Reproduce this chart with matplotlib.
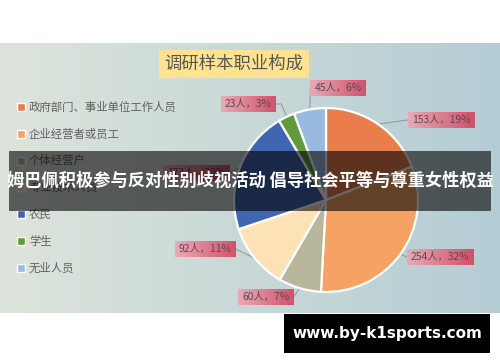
import numpy as np
import matplotlib.pyplot as plt
from matplotlib.patches import Rectangle

plt.rcParams['font.family'] = ['Noto Sans CJK SC', 'DejaVu Sans']

# data
categories = ['政府部门、事业单位工作人员', '企业经营者或员工', '个体经营户', '专业技术人员',
              '农民', '学生', '无业人员']
values = [153, 254, 60, 92, 173, 23, 45]
pct_labels = ['19%', '32%', '7%', '11%', '22%', '3%', '6%']
colors = ['#EA7D4C', '#F6A262', '#B8B79C', '#FDE2B6', '#3F66B0', '#5F9B3B', '#98BAE1']

title = '调研样本职业构成'
banner = '姆巴佩积极参与反对性别歧视活动 倡导社会平等与尊重女性权益'
site = 'www.by-k1sports.com'

W, H = 500, 362


def Y(y):
    # pixel row (top-down) -> data y
    return H - y


fig = plt.figure(figsize=(5, 3.62), dpi=100)
ax = fig.add_axes([0, 0, 1, 1])

# background gradient of the chart area
left = np.array([221, 228, 219]) / 255
right = np.array([180, 205, 212]) / 255
t = np.linspace(0, 1, 200)
grad = (left[None, :] * (1 - t[:, None]) + right[None, :] * t[:, None])[None, :, :]
ax.imshow(grad, extent=(0, W, Y(313), Y(43)), aspect='auto', zorder=0)

# pie
cx, cy, r = 326, 200, 92
wedges, _ = ax.pie(values, colors=colors, startangle=90, counterclock=False,
                   center=(cx, Y(cy)), radius=r, frame=True,
                   wedgeprops=dict(edgecolor='white', linewidth=1.6))
for w in wedges:
    w.set_zorder(2)

# title
ax.text(234, Y(64), title, fontsize=12.5, color='#555555', ha='center', va='center',
        zorder=5, bbox=dict(boxstyle='square,pad=0.3', fc='#FFE38F', ec='none'))

# legend
for i, (name, c) in enumerate(zip(categories, colors)):
    ly = 107 + 26.8 * i
    ax.add_patch(Rectangle((17, Y(ly) - 4), 8, 8, fc=c, ec='white', lw=1, zorder=5))
    ax.text(29, Y(ly), name, fontsize=8.2, color='#606060', va='center', zorder=5)

# data labels
label_pos = [(441, 120), (440, 257), (266, 297), (205, 249), (196, 173), (248, 104), (338, 88)]
fig.canvas.draw()
renderer = fig.canvas.get_renderer()
box_grad = np.linspace(np.array([236, 165, 178]) / 255, np.array([213, 66, 95]) / 255, 50)[None, :, :]
total = sum(values)
acc = 0
for v, p, (bx, by) in zip(values, pct_labels, label_pos):
    mid = 90 - 360 * (acc + v / 2) / total
    acc += v
    ex = cx + r * np.cos(np.radians(mid))
    ey = cy - r * np.sin(np.radians(mid))
    txt = ax.text(bx, Y(by), f'{v}人，{p}', fontsize=7.4, color='#5a4a50',
                  ha='center', va='center', zorder=7)
    bb = txt.get_window_extent(renderer)
    bw = bb.width + 8
    bh = 16
    x0, x1 = bx - bw / 2, bx + bw / 2
    ax.imshow(box_grad, extent=(x0, x1, Y(by + bh / 2), Y(by - bh / 2)),
              aspect='auto', alpha=0.9, zorder=6)
    if by < cy - r and x0 < ex < x1 + 10:
        # label right above the slice: line ends at the box bottom
        xs, ys = [ex, x0 + 4], [ey, by + bh / 2]
    elif bx > cx:
        xs, ys = [ex, x0], [ey, by]
    elif abs(by - ey) < 12:
        xs, ys = [ex, x1], [ey, by]
    else:
        xs, ys = [ex, x1 + 6, x1], [ey, by, by]
    ax.plot(xs, [Y(v_) for v_ in ys], color='#9a9a9a', lw=0.8, zorder=1.5)

# banner overlay
ax.add_patch(Rectangle((9, Y(211)), 482, 60, fc='black', alpha=0.6, ec='none', zorder=10))
ax.text(250, Y(181), banner, fontsize=12.4, fontweight='bold', color='white',
        ha='center', va='center', zorder=11)

# site box
ax.add_patch(Rectangle((284, Y(353)), 206, 39, fc='black', ec='none', zorder=10))
ax.text(387, Y(333.5), site, fontsize=11, fontweight='bold', color='white',
        family='DejaVu Sans', ha='center', va='center', zorder=11)

ax.set_xlim(0, W)
ax.set_ylim(0, H)
ax.set_aspect('auto')
ax.axis('off')

plt.savefig('out.png', dpi=100, facecolor='white')
